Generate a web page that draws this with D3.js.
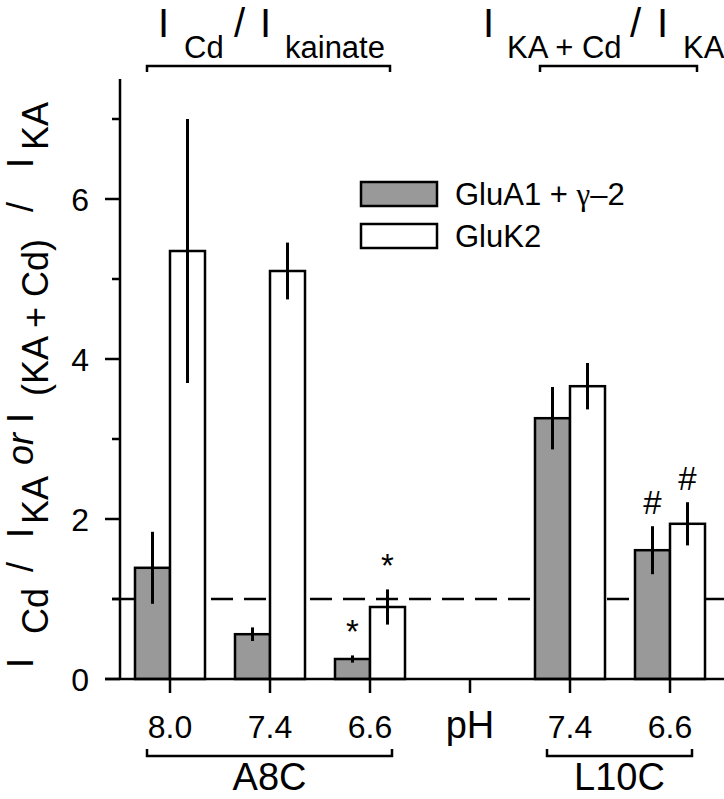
<!DOCTYPE html>
<html>
<head>
<meta charset="utf-8">
<script src="https://cdn.jsdelivr.net/npm/d3@7"></script>
<style>
  html, body { margin: 0; padding: 0; background: #fff; }
  svg { display: block; }
  text { font-family: "Liberation Sans", Arial, Helvetica, sans-serif; fill: #000; }
</style>
</head>
<body>
<script>
// ---------------- data ----------------
const categories = ["A8C 8.0", "A8C 7.4", "A8C 6.6", "pH", "L10C 7.4", "L10C 6.6"];
const tickLabels = ["8.0", "7.4", "6.6", "pH", "7.4", "6.6"];
const seriesNames = ["GluA1 + γ–2", "GluK2"];
const gluA1 = [1.39, 0.56, 0.25, null, 3.26, 1.61];
const gluA1Err = [0.45, 0.085, 0.045, null, 0.39, 0.30];
const gluK2 = [5.35, 5.10, 0.90, null, 3.66, 1.94];
const gluK2Err = [1.65, 0.355, 0.22, null, 0.29, 0.27];
const gluA1Sig = ["", "", "*", "", "", "#"];
const gluK2Sig = ["", "", "*", "", "", "#"];
const yMajorTicks = [0, 2, 4, 6];
const yMinorTicks = [1, 3, 5, 7];
const referenceLevel = 1;
const groupBrackets = [
  { label: "A8C", from: "A8C 8.0", to: "A8C 6.6" },
  { label: "L10C", from: "L10C 7.4", to: "L10C 6.6" }
];

// ---------------- layout ----------------
const W = 724, H = 799;
const svg = d3.select("body").append("svg").attr("width", W).attr("height", H);

const x = d3.scalePoint().domain(categories).range([170, 670]);
const y = d3.scaleLinear().domain([0, 7.5]).range([679, 79]);
const barW = 35;
const greyFill = "#999999";

// reference dashed line
svg.append("line")
  .attr("x1", 112).attr("x2", W)
  .attr("y1", y(referenceLevel)).attr("y2", y(referenceLevel))
  .attr("stroke", "#000").attr("stroke-width", 2.5)
  .attr("stroke-dasharray", "22,11");

// bars
const series = [
  { vals: gluA1, errs: gluA1Err, sig: gluA1Sig, fill: greyFill, off: -barW },
  { vals: gluK2, errs: gluK2Err, sig: gluK2Sig, fill: "#ffffff", off: 0 }
];

series.forEach(s => {
  const data = categories.map((c, i) => ({ c, v: s.vals[i], e: s.errs[i], sig: s.sig[i] }))
    .filter(d => d.v !== null);
  svg.append("g").selectAll("rect").data(data).join("rect")
    .attr("x", d => x(d.c) + s.off)
    .attr("y", d => y(d.v))
    .attr("width", barW)
    .attr("height", d => y(0) - y(d.v))
    .attr("fill", s.fill)
    .attr("stroke", "#000").attr("stroke-width", 2.5);
  svg.append("g").selectAll("line").data(data).join("line")
    .attr("x1", d => x(d.c) + s.off + barW / 2)
    .attr("x2", d => x(d.c) + s.off + barW / 2)
    .attr("y1", d => y(d.v + d.e))
    .attr("y2", d => y(d.v - d.e))
    .attr("stroke", "#000").attr("stroke-width", 3);
  svg.append("g").selectAll("text").data(data.filter(d => d.sig)).join("text")
    .attr("x", d => x(d.c) + s.off + barW / 2)
    .attr("y", d => y(d.v + d.e) - 12)
    .attr("text-anchor", "middle")
    .attr("font-size", 33)
    .text(d => d.sig);
});

// y axis
const yAxisG = svg.append("g");
yAxisG.append("line").attr("x1", 120).attr("x2", 120).attr("y1", y(7.5)).attr("y2", y(0))
  .attr("stroke", "#000").attr("stroke-width", 2.5);
yAxisG.selectAll(".maj").data(yMajorTicks).join("line")
  .attr("x1", 105).attr("x2", 120).attr("y1", d => y(d)).attr("y2", d => y(d))
  .attr("stroke", "#000").attr("stroke-width", 2.5);
yAxisG.selectAll(".min").data(yMinorTicks).join("line")
  .attr("x1", 112).attr("x2", 120).attr("y1", d => y(d)).attr("y2", d => y(d))
  .attr("stroke", "#000").attr("stroke-width", 2.5);
yAxisG.selectAll("text").data(yMajorTicks).join("text")
  .attr("x", 89).attr("y", d => y(d)).attr("dy", "0.36em")
  .attr("text-anchor", "end").attr("font-size", 32)
  .text(d => d);

// x axis
const xAxisG = svg.append("g");
xAxisG.append("line").attr("x1", 105).attr("x2", W).attr("y1", y(0)).attr("y2", y(0))
  .attr("stroke", "#000").attr("stroke-width", 2.5);
xAxisG.selectAll("line.t").data(categories).join("line").attr("class", "t")
  .attr("x1", d => x(d)).attr("x2", d => x(d)).attr("y1", y(0)).attr("y2", y(0) + 14)
  .attr("stroke", "#000").attr("stroke-width", 2.5);
xAxisG.selectAll("text").data(categories).join("text")
  .attr("x", d => x(d)).attr("y", 738)
  .attr("text-anchor", "middle")
  .attr("font-size", (d, i) => tickLabels[i] === "pH" ? 38 : 32)
  .text((d, i) => tickLabels[i]);

// group brackets (bottom)
groupBrackets.forEach(g => {
  const x1 = x(g.from) - 23, x2 = x(g.to) + 22;
  svg.append("path")
    .attr("d", `M${x1},749 V756 H${x2} V749`)
    .attr("fill", "none").attr("stroke", "#000").attr("stroke-width", 2.5);
  svg.append("text").attr("x", (x1 + x2) / 2).attr("y", 790)
    .attr("text-anchor", "middle").attr("font-size", 38).text(g.label);
});

// top brackets
[[147, 390], [540, 697]].forEach(([a, b]) => {
  svg.append("path").attr("d", `M${a},72 V66 H${b} V72`)
    .attr("fill", "none").attr("stroke", "#000").attr("stroke-width", 2.5);
});

// top titles
function chunks(parts, baseMain, baseSub) {
  const t = svg.append("text");
  parts.forEach(p => {
    t.append("tspan").attr("x", p.x).attr("y", p.sub ? baseSub : baseMain)
      .attr("font-size", p.sub ? 31 : 40).text(p.t);
  });
}
chunks([
  { t: "I", x: 158 }, { t: "Cd", x: 184, sub: true }, { t: "/", x: 234 },
  { t: "I", x: 260 }, { t: "kainate", x: 285, sub: true }
], 37, 58);
chunks([
  { t: "I", x: 483 }, { t: "KA + Cd", x: 507, sub: true }, { t: "/", x: 630 },
  { t: "I", x: 657 }, { t: "KA", x: 683, sub: true }
], 37, 58);

// y axis label (rotated)
const yl = svg.append("text").attr("transform", "rotate(-90)");
const ylParts = [
  { t: "I", s: 668 }, { t: "Cd", s: 634, sub: true }, { t: "/", s: 572 },
  { t: "I", s: 538 }, { t: "KA", s: 524, sub: true }, { t: "or", s: 465, it: true },
  { t: "I", s: 423 }, { t: "(KA + Cd)", s: 396, sub: true }, { t: "/", s: 212 },
  { t: "I", s: 168 }, { t: "KA", s: 150, sub: true }
];
ylParts.forEach(p => {
  yl.append("tspan").attr("x", -p.s).attr("y", p.sub ? 48 : 33)
    .attr("font-size", 36)
    .attr("font-style", p.it ? "italic" : null)
    .text(p.t);
});

// legend
const legendG = svg.append("g");
[greyFill, "#ffffff"].forEach((f, i) => {
  legendG.append("rect").attr("x", 361).attr("y", 182 + i * 42).attr("width", 76).attr("height", 24)
    .attr("fill", f).attr("stroke", "#000").attr("stroke-width", 2.5);
});
const lt1 = legendG.append("text").attr("x", 455).attr("y", 205).attr("font-size", 31);
lt1.append("tspan").text("GluA1 + ");
lt1.append("tspan").attr("font-family", "'Liberation Serif', 'Times New Roman', serif").text("γ");
lt1.append("tspan").text("–2");
legendG.append("text").attr("x", 455).attr("y", 247).attr("font-size", 31).text(seriesNames[1]);
</script>
</body>
</html>
